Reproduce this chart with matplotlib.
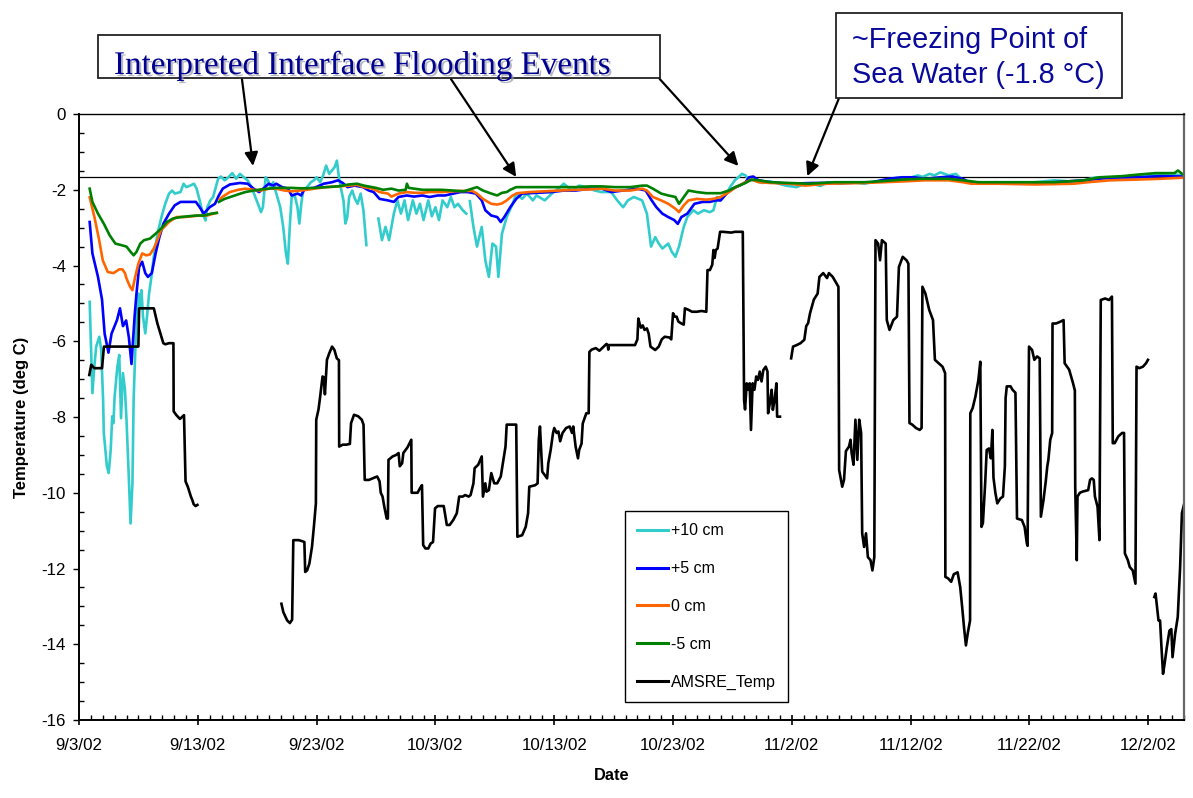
import numpy as np
import matplotlib
matplotlib.use("Agg")
import matplotlib.pyplot as plt
import matplotlib.dates as mdates
from matplotlib.patches import Rectangle
from matplotlib.lines import Line2D
from matplotlib.ticker import FixedLocator, FuncFormatter, MultipleLocator
import matplotlib.patheffects as pe
from datetime import datetime

plt.rcParams['font.family'] = ['Liberation Sans', 'DejaVu Sans']
plt.rcParams['axes.unicode_minus'] = False

# ---------------------------------------------------------------------------
# Data: days after 9/3/02 00:00 and temperatures (deg C); NaN marks a gap
# ---------------------------------------------------------------------------
START = datetime(2002, 9, 3)
FREEZE_LINE = -1.65

p10_days = [0.90, 1.13, 1.29, 1.45, 1.71, 1.87, 2.03, 2.09, 2.35, 2.50, 2.67, 2.80, 2.90, 3.00, 3.23,
            3.39, 3.54, 3.70, 3.87, 4.00, 4.18, 4.34, 4.50, 4.60, 4.74, 4.87, 5.00, 5.13, 5.26, 5.39,
            5.58, 5.74, 5.90, 6.06, 6.29, 6.61, 6.94, 7.26, 7.58, 7.84, 8.06, 8.55, 8.80, 9.03, 9.35,
            9.68, 9.90, 10.16, 10.42, 10.65, 10.80, 11.06, 11.29, 11.52, 11.71, 11.94, 12.26, 12.58,
            12.90, 13.23, 13.55, 13.87, 14.19, 14.52, 14.84, 15.06, 15.32, 15.48, 15.71, 15.90, 16.13,
            16.35, 16.61, 16.94, 17.19, 17.42, 17.58, 17.74, 17.90, 18.16, 18.39, 18.55, 18.71, 18.87,
            19.19, 19.52, 19.77, 20.00, 20.30, 20.55, 20.80, 21.06, 21.29, 21.52, 21.71, 21.84, 22.03,
            22.26, 22.42, 22.58, 22.74, 23.00, 23.23, 23.45, 23.71, 23.94, 24.19, 24.50, 25.20, 25.50,
            25.80, 26.10, 26.50, 26.80, 27.10, 27.40, 27.70, 28.10, 28.40, 28.70, 29.00, 29.40, 29.70,
            30.00, 30.30, 30.60, 31.00, 31.30, 31.60, 31.90, 32.30, 32.60, 32.75, 32.90, 33.20, 33.50,
            33.90, 34.20, 34.50, 34.80, 35.10, 35.30, 35.60, 36.00, 36.50, 36.80, 37.30, 37.70, 38.20,
            38.50, 39.20, 39.80, 40.50, 40.80, 41.50, 42.10, 42.70, 43.40, 44.00, 44.80, 45.30, 45.80,
            46.20, 46.70, 47.40, 47.80, 48.15, 48.50, 48.80, 49.10, 49.60, 49.90, 50.20, 50.50, 50.90,
            51.20, 51.70, 52.10, 52.60, 53.10, 53.40, 53.70, 54.00, 54.50, 54.80, 55.20, 55.50, 55.80,
            56.10, 56.40, 56.90, 57.50, 58.20, 59.50, 60.40, 61.00, 61.70, 62.40, 63.00, 64.00, 65.00,
            66.10, 67.00, 68.00, 68.60, 69.30, 70.00, 70.60, 71.00, 71.60, 72.00, 72.50, 73.20, 73.80,
            74.40, 75.10, 76.00, 77.30, 78.50, 80.50, 82.10, 83.50, 84.60, 85.60, 86.50, 87.50, 88.40,
            89.20, 90.00, 91.00, 91.60, 92.30, 93.00]
p10_temp = [-4.96, -7.37, -6.67, -6.14, -5.88, -6.23, -7.54, -8.42, -9.30, -9.48, -8.87, -7.98, -8.16,
            -7.46, -6.67, -6.36, -8.03, -6.84, -7.28, -8.07, -9.48, -10.81, -9.75, -7.54, -6.23, -5.18,
            -4.74, -5.10, -4.65, -5.35, -5.79, -5.30, -4.74, -4.39, -3.77, -3.16, -2.72, -2.37, -2.10,
            -2.02, -2.10, -2.06, -1.84, -1.93, -1.89, -1.84, -1.97, -2.28, -2.63, -2.81, -2.46, -2.28,
            -2.19, -1.93, -1.71, -1.65, -1.75, -1.67, -1.56, -1.71, -1.58, -1.67, -1.75, -1.93, -2.19,
            -2.37, -2.59, -2.46, -1.67, -1.75, -1.93, -1.80, -2.10, -2.46, -2.98, -3.68, -3.95, -2.98,
            -2.19, -2.15, -2.46, -2.89, -2.37, -2.02, -1.93, -1.80, -1.75, -1.67, -1.80, -1.62, -1.36,
            -1.58, -1.49, -1.40, -1.23, -1.58, -1.93, -2.28, -2.89, -2.72, -2.19, -2.02, -2.24, -2.37,
            -2.10, -2.54, -3.46, np.nan, -2.76, -3.33, -2.98, -3.33, -2.63, -2.28, -2.63, -2.28, -2.80,
            -2.28, -2.63, -2.37, -2.80, -2.28, -2.70, -2.46, -2.80, -2.28, -2.46, -2.19, -2.46, -2.37,
            -2.54, -2.63, np.nan, -2.30, -2.98, -3.50, -2.98, -3.86, -4.30, -3.42, -3.50, -4.30, -3.16,
            -2.72, -2.37, -2.10, -2.24, -2.10, -2.28, -2.15, -2.28, -2.10, -1.93, -1.84, -2.02, -1.89,
            -1.93, -2.02, -2.06, -2.06, -2.28, -2.46, -2.28, -2.19, -2.28, -2.63, -3.50, -3.25, -3.42,
            -3.55, -3.42, -3.64, -3.77, -3.50, -2.98, -2.72, -2.54, -2.63, -2.54, -2.59, -2.54, -2.19,
            -2.28, -2.10, -1.93, -1.75, -1.67, -1.58, -1.62, -1.75, -1.75, -1.82, -1.78, -1.89, -1.93,
            -1.85, -1.84, -1.90, -1.80, -1.84, -1.80, -1.84, -1.78, -1.75, -1.70, -1.67, -1.68, -1.62,
            -1.66, -1.58, -1.62, -1.54, -1.62, -1.58, -1.75, -1.80, -1.82, -1.80, -1.84, -1.80, -1.75,
            -1.78, -1.75, -1.67, -1.70, -1.67, -1.66, -1.64, -1.62, -1.60, -1.58, -1.60, -1.62]

p5_days = [0.90, 1.13, 1.60, 1.94, 2.16, 2.48, 2.74, 3.00, 3.20, 3.45, 3.70, 3.97, 4.20, 4.42, 4.68,
           4.84, 5.06, 5.32, 5.58, 5.80, 6.13, 6.45, 6.77, 7.10, 7.58, 8.06, 8.55, 9.20, 9.84, 10.16,
           10.50, 11.00, 11.45, 11.77, 12.10, 12.70, 13.55, 14.20, 14.70, 15.16, 15.65, 15.97, 16.35,
           16.60, 17.10, 17.60, 17.90, 18.40, 18.70, 19.00, 19.80, 20.60, 21.30, 21.80, 22.20, 22.60,
           23.20, 23.90, 24.40, 24.80, 25.30, 26.00, 26.50, 26.90, 27.60, 28.20, 28.90, 29.50, 30.20,
           30.80, 31.50, 32.10, 32.70, 33.40, 33.90, 34.20, 34.70, 35.20, 35.50, 35.80, 36.30, 36.80,
           37.30, 38.50, 39.80, 40.80, 41.80, 43.10, 44.00, 44.80, 45.80, 47.00, 47.70, 48.20, 48.60,
           49.10, 49.60, 50.10, 50.40, 50.70, 51.20, 51.80, 52.50, 53.10, 53.60, 54.00, 54.50, 55.00,
           55.60, 56.10, 56.40, 56.75, 57.20, 58.20, 59.80, 61.70, 64.60, 66.80, 68.10, 69.30, 70.30,
           71.20, 72.50, 73.50, 74.40, 74.90, 75.70, 78.90, 82.10, 84.60, 86.80, 89.10, 91.00, 93.00]
p5_temp = [-2.85, -3.68, -4.30, -4.90, -5.80, -6.30, -5.80, -5.60, -5.44, -5.13, -5.60, -5.45, -5.90,
           -6.60, -5.35, -4.74, -4.04, -3.90, -4.20, -4.30, -4.20, -3.68, -3.25, -2.90, -2.63, -2.41,
           -2.32, -2.32, -2.32, -2.46, -2.63, -2.46, -2.37, -2.15, -1.97, -1.86, -1.82, -1.84, -1.97,
           -2.06, -1.93, -1.84, -1.89, -1.84, -1.93, -1.97, -2.15, -2.10, -2.15, -1.97, -1.95, -1.84,
           -1.80, -1.75, -1.82, -1.93, -1.89, -1.93, -2.02, -2.06, -2.24, -2.28, -2.32, -2.19, -2.15,
           -2.18, -2.15, -2.19, -2.15, -2.15, -2.10, -2.06, -2.06, -2.10, -2.28, -2.54, -2.68, -2.72,
           -2.85, -2.72, -2.46, -2.24, -2.10, -2.08, -2.06, -2.02, -2.02, -1.97, -1.97, -2.06, -2.02,
           -1.97, -2.02, -2.28, -2.46, -2.63, -2.72, -2.80, -2.90, -2.72, -2.63, -2.37, -2.32, -2.32,
           -2.28, -2.28, -2.10, -1.97, -1.89, -1.80, -1.67, -1.65, -1.75, -1.80, -1.84, -1.82, -1.82,
           -1.80, -1.71, -1.67, -1.67, -1.71, -1.67, -1.65, -1.71, -1.80, -1.82, -1.82, -1.80, -1.75,
           -1.68, -1.67, -1.64, -1.65]

p0_days = [0.90, 1.30, 1.70, 2.00, 2.42, 2.90, 3.40, 3.65, 3.87, 4.00, 4.30, 4.50, 4.70, 5.00, 5.32,
           5.65, 5.97, 6.30, 6.60, 6.90, 7.58, 8.20, 8.87, 9.50, 10.16, 10.80, 11.30, 11.60, 11.70,
           11.85, 12.10, 12.70, 13.40, 14.00, 14.70, 15.30, 16.00, 16.60, 17.30, 17.90, 18.60, 19.20,
           19.80, 20.80, 21.80, 22.70, 23.40, 24.00, 24.70, 25.30, 26.00, 26.30, 26.90, 27.60, 28.20,
           28.90, 29.50, 30.50, 31.50, 32.40, 33.10, 33.50, 34.00, 34.70, 35.20, 35.60, 36.00, 36.50,
           36.90, 37.90, 39.20, 40.50, 41.80, 43.10, 44.00, 45.10, 46.40, 47.40, 47.80, 48.30, 49.00,
           49.60, 50.20, 50.50, 50.90, 51.30, 52.00, 52.80, 53.40, 54.00, 54.70, 55.30, 56.10, 56.60,
           57.20, 58.20, 59.80, 61.10, 63.00, 66.10, 67.70, 69.30, 71.20, 73.20, 74.40, 75.10, 77.30,
           80.50, 83.70, 84.90, 86.80, 89.10, 91.00, 93.00]
p0_temp = [-2.20, -2.72, -3.33, -3.86, -4.17, -4.20, -4.10, -4.10, -4.20, -4.34, -4.56, -4.65, -4.34,
           -3.95, -3.68, -3.73, -3.71, -3.55, -3.33, -3.07, -2.85, -2.72, -2.72, -2.70, -2.68, -2.68,
           -2.63, -2.61, np.nan, -2.25, -2.18, -2.06, -2.00, -1.97, -2.00, -2.02, -1.97, -1.97, -2.02,
           -2.04, -2.02, -2.00, -1.97, -1.93, -1.91, -1.89, -1.87, -1.93, -1.97, -2.06, -2.10, -2.18,
           -2.10, -2.06, -2.08, -2.08, -2.06, -2.06, -2.04, -2.03, -2.03, -2.10, -2.24, -2.37, -2.39,
           -2.36, -2.28, -2.15, -2.09, -2.06, -2.04, -2.02, -2.00, -1.99, -1.97, -2.02, -2.02, -1.97,
           -2.02, -2.19, -2.28, -2.37, -2.50, -2.59, -2.41, -2.28, -2.24, -2.26, -2.24, -2.19, -2.06,
           -1.93, -1.80, -1.73, -1.80, -1.82, -1.84, -1.89, -1.84, -1.82, -1.80, -1.78, -1.75, -1.75,
           -1.80, -1.84, -1.84, -1.86, -1.84, -1.80, -1.75, -1.73, -1.71, -1.68]

m5_days = [0.90, 1.13, 1.60, 2.10, 2.58, 3.06, 3.55, 4.00, 4.35, 4.60, 4.84, 5.16, 5.48, 5.97, 6.45,
           6.90, 7.40, 7.90, 8.55, 9.20, 9.84, 10.50, 11.13, 11.60, 11.70, 11.77, 12.26, 12.74, 13.40,
           14.00, 14.70, 15.30, 15.97, 16.60, 17.30, 17.90, 18.60, 19.20, 19.80, 20.80, 21.80, 22.70,
           23.40, 24.00, 25.00, 25.60, 26.30, 26.90, 27.50, 27.60, 27.75, 28.20, 28.90, 29.50, 30.50,
           31.50, 32.40, 33.10, 33.50, 34.00, 34.70, 35.20, 35.60, 36.00, 36.30, 36.80, 38.50, 40.20,
           41.80, 43.10, 44.00, 45.10, 46.40, 47.40, 47.80, 48.30, 49.00, 49.60, 50.20, 50.50, 51.00,
           51.30, 52.00, 52.80, 54.00, 54.70, 55.30, 56.10, 56.60, 57.20, 58.20, 59.80, 61.40, 63.60,
           66.10, 67.70, 69.30, 70.90, 73.20, 74.40, 75.70, 78.90, 82.10, 84.60, 85.90, 87.80, 89.10,
           90.60, 92.20, 92.50, 93.00]
m5_temp = [-1.97, -2.32, -2.63, -2.90, -3.20, -3.42, -3.46, -3.50, -3.64, -3.73, -3.64, -3.42, -3.33,
           -3.29, -3.16, -3.03, -2.85, -2.76, -2.72, -2.70, -2.68, -2.68, -2.63, -2.61, np.nan, -2.32,
           -2.24, -2.19, -2.12, -2.06, -2.02, -1.99, -1.97, -1.95, -1.95, -1.95, -1.96, -1.96, -1.95,
           -1.93, -1.91, -1.86, -1.84, -1.89, -1.95, -2.00, -1.97, -2.02, -2.00, -1.84, -1.95, -1.97,
           -2.00, -2.00, -2.00, -2.02, -2.04, -1.97, -1.93, -2.02, -2.10, -2.15, -2.08, -2.06, -2.00,
           -1.93, -1.93, -1.93, -1.93, -1.91, -1.91, -1.93, -1.93, -1.89, -1.89, -1.97, -2.10, -2.15,
           -2.19, -2.37, -2.15, -2.02, -2.06, -2.09, -2.09, -2.02, -1.92, -1.82, -1.73, -1.75, -1.80,
           -1.82, -1.84, -1.80, -1.80, -1.77, -1.73, -1.71, -1.71, -1.75, -1.80, -1.80, -1.80, -1.75,
           -1.67, -1.64, -1.60, -1.56, -1.56, -1.49, -1.62]

amsre_days = [0.87, 1.03, 1.29, 1.94, 2.10, 5.00, 5.06, 6.30, 6.60, 6.94, 7.10, 7.26, 7.58, 7.95,
              7.97, 8.20, 8.50, 8.84, 8.97, 9.16, 9.42, 9.55, 9.65, 9.81, 9.97, 13.50,
              17.04, 17.20, 17.52, 17.75, 17.94, 18.04, 18.49, 18.81, 18.97, 19.04, 19.20, 19.39,
              19.61, 19.77, 19.94, 19.97, 20.16, 20.30, 20.50, 20.60, 20.70, 20.87, 21.06, 21.30,
              21.50, 21.70, 21.88, 21.90, 22.20, 22.50, 22.80, 22.90, 23.15, 23.50, 23.80, 23.95,
              24.05, 24.40, 25.10, 25.30, 25.40, 25.55, 25.70, 25.90, 26.00, 26.05, 26.40, 26.70,
              26.90, 27.00, 27.20, 27.30, 27.65, 27.97, 28.00, 28.50, 28.70, 28.87, 28.97, 29.16,
              29.40, 29.60, 29.80, 29.97, 30.20, 30.70, 30.96, 31.20, 31.50, 31.80, 32.00, 32.30,
              32.50, 32.80, 32.96, 33.20, 33.30, 33.60, 33.90, 34.00, 34.20, 34.30, 34.50, 34.70,
              34.95, 35.20, 35.50, 35.90, 36.00, 36.80, 36.90, 37.30, 37.60, 37.80, 37.90, 38.40,
              38.60, 38.70, 38.80, 38.99, 39.40, 39.50, 39.70, 39.90, 40.00, 40.20, 40.35, 40.50,
              40.70, 41.00, 41.30, 41.50, 41.60, 41.80, 42.00, 42.10, 42.30, 42.40, 42.70, 42.90,
              42.96, 43.15, 43.50, 43.80, 44.40, 44.50, 44.55, 44.60, 45.80, 46.80, 47.00, 47.08,
              47.20, 47.30, 47.45, 47.60, 47.80, 47.95, 48.10, 48.50, 48.80, 49.05, 49.30, 49.70,
              49.85, 50.00, 50.15, 50.30, 50.45, 50.70, 50.90, 51.00, 51.30, 51.60, 52.00, 52.40,
              52.80, 52.90, 53.10, 53.30, 53.40, 53.50, 53.60, 53.75, 53.96, 54.20, 54.90, 55.20,
              55.87, 55.98, 56.06, 56.20, 56.33, 56.45, 56.56, 56.70, 56.85, 57.00, 57.15, 57.30,
              57.45, 57.60, 57.80, 57.95, 58.00, 58.15, 58.30, 58.40, 58.55, 58.70, 58.76, 59.00,
              59.50,
              59.94, 60.10, 60.41, 60.73, 61.05, 61.21, 61.37, 61.53, 61.85, 62.17, 62.32, 62.64,
              62.96, 63.12, 63.44, 63.76, 63.92, 63.98, 64.24, 64.39, 64.55, 64.81, 64.94, 65.03,
              65.19, 65.35, 65.51, 65.67, 65.83, 65.92, 66.08, 66.24, 66.40, 66.62, 66.78, 66.94,
              67.04, 67.26, 67.42, 67.58, 67.90, 67.99, 68.22, 68.54, 68.85, 69.01, 69.33, 69.65,
              69.81, 69.90, 70.13, 70.45, 70.76, 70.92, 70.99, 71.24, 71.56, 71.88, 72.04, 72.36,
              72.68, 72.90, 72.92, 73.15, 73.41, 73.63, 73.95, 74.17, 74.33, 74.49, 74.65, 74.81,
              75.00, 75.02, 75.22, 75.45, 75.70, 75.86, 75.96, 76.08, 76.27, 76.40, 76.59, 76.75,
              76.88, 76.97, 77.13, 77.29, 77.55, 77.77, 77.93, 77.99, 78.09, 78.41, 78.57, 78.82,
              78.95, 79.36, 79.59, 79.78, 79.84, 79.96, 80.22, 80.41, 80.64, 80.86, 80.96, 81.18,
              81.37, 81.50, 81.59, 81.75, 81.91, 81.94, 82.23, 82.55, 82.87, 82.96, 83.34, 83.66,
              83.82, 83.85, 83.98, 84.04, 84.24, 84.46, 84.94, 85.10, 85.25, 85.41, 85.51, 85.73,
              85.89, 86.00, 86.37, 86.69, 86.94, 87.01, 87.17, 87.48, 87.80, 87.96, 88.03, 88.28,
              88.44, 88.69, 88.92, 89.01, 89.24, 89.55, 89.81, 89.97, 90.30,
              90.51, 90.61, 90.73, 90.86, 90.99, 91.11, 91.24, 91.37, 91.56, 91.78, 91.94, 92.04,
              92.26, 92.48, 92.68, 92.83, 93.06]
amsre_temp = [-6.89, -6.62, -6.71, -6.71, -6.14, -6.14, -5.13, -5.13, -5.53, -5.88, -6.05, -6.08,
              -6.05, -6.05, -7.85, -7.95, -8.05, -7.95, -9.70, -9.84, -10.10, -10.20, -10.30, -10.35,
              -10.32, np.nan,
              -12.93, -13.15, -13.37, -13.44, -13.35, -11.25, -11.25, -11.28, -11.30, -12.09, -12.05,
              -11.87, -11.43, -10.90, -10.28, -8.07, -7.80, -7.46, -6.93, -6.95, -7.40, -6.49, -6.32,
              -6.14, -6.23, -6.45, -6.50, -8.78, -8.73, -8.73, -8.71, -8.16, -7.94, -7.98, -8.07,
              -8.20, -9.66, -9.66, -9.57, -9.70, -10.00, -10.10, -10.37, -10.68, -10.68, -9.13, -9.04,
              -9.00, -8.95, -9.30, -9.22, -8.95, -8.80, -8.60, -10.00, -10.00, -9.88, -9.80, -11.38,
              -11.47, -11.47, -11.34, -11.30, -10.41, -10.35, -10.35, -10.85, -10.85, -10.72, -10.54,
              -10.10, -10.10, -10.06, -10.10, -10.06, -9.75, -9.35, -9.26, -9.04, -10.10, -9.75,
              -9.97, -9.93, -9.48, -9.75, -9.75, -9.57, -8.78, -8.20, -8.20, -11.16, -11.12, -10.90,
              -10.54, -9.84, -9.80, -9.75, -8.60, -8.25, -9.44, -9.62, -9.22, -8.87, -8.42, -8.29,
              -8.42, -8.38, -8.64, -8.42, -8.29, -8.25, -8.42, -8.25, -8.78, -9.09, -8.87, -8.70,
              -8.17, -7.90, -7.90, -6.28, -6.22, -6.18, -6.25, -6.07, -6.10, -6.22, -6.10, -6.10,
              -6.10, -5.95, -5.40, -5.55, -5.64, -5.58, -5.70, -5.66, -5.80, -6.14, -6.23, -6.14,
              -5.95, -5.88, -5.90, -5.95, -5.26, -5.35, -5.35, -5.48, -5.53, -5.56, -5.13, -5.17,
              -5.22, -5.22, -5.20, -5.22, -4.12, -4.12, -3.98, -3.59, -3.80, -3.59, -3.55, -3.11,
              -3.11, -3.13, -3.11, -3.11, -7.55, -7.80, -7.11, -7.28, -7.11, -8.34, -7.11, -7.28,
              -6.93, -7.02, -6.80, -7.06, -6.76, -6.67, -6.80, -7.90, -7.63, -7.28, -7.81, -7.55,
              -7.11, -7.99, -7.99, np.nan,
              -6.45, -6.14, -6.10, -6.05, -5.96, -5.60, -5.52, -5.26, -4.90, -4.74, -4.30, -4.20,
              -4.33, -4.20, -4.30, -4.47, -4.56, -9.40, -9.84, -9.66, -8.90, -8.78, -8.60, -8.95,
              -9.26, -8.07, -9.13, -8.07, -8.42, -11.07, -11.43, -11.07, -11.70, -11.78, -12.05,
              -11.70, -3.33, -3.42, -3.86, -3.33, -3.42, -5.44, -5.70, -5.44, -5.35, -4.04, -3.77,
              -3.86, -3.95, -8.16, -8.20, -8.29, -8.34, -8.29, -4.56, -4.74, -5.17, -5.44, -6.49,
              -6.58, -6.67, -6.84, -12.22, -12.26, -12.35, -12.15, -12.10, -12.49, -13.00, -13.55,
              -14.03, -13.70, -13.37, -7.90, -7.76, -7.46, -7.02, -6.54, -10.90, -10.80, -9.75,
              -8.87, -8.83, -9.09, -8.34, -9.60, -10.00, -10.28, -10.15, -10.10, -9.30, -7.50, -7.19,
              -7.19, -7.28, -7.36, -10.68, -10.72, -10.90, -11.34, -11.40, -6.14, -6.23, -6.49,
              -6.40, -6.45, -10.63, -10.19, -9.70, -9.30, -9.13, -8.60, -8.42, -5.53, -5.53, -5.49,
              -5.44, -6.58, -6.75, -7.10, -7.30, -9.84, -11.78, -10.10, -10.00, -9.97, -9.93, -9.66,
              -9.62, -9.66, -10.10, -10.37, -11.25, -4.91, -4.87, -4.91, -4.82, -8.69, -8.69, -8.51,
              -8.42, -8.42, -11.60, -11.78, -11.96, -12.05, -12.40, -6.67, -6.71, -6.67, -6.58,
              -6.49, np.nan,
              -12.75, -12.66, -13.00, -13.37, -13.37, -14.08, -14.78, -14.52, -14.08, -13.64,
              -13.60, -14.34, -13.72, -13.28, -11.96, -10.54, -10.24]

series_labels = ['+10 cm', '+5 cm', '0 cm', '-5 cm', 'AMSRE_Temp']
series_colors = ['#33CCCC', '#0000FF', '#FF6600', '#008000', '#000000']

# Arrow tips (days after start, deg C) and tails (figure fraction)
arrow_tips = [(14.65, -1.37), (36.8, -1.66), (55.5, -1.37), (61.3, -1.64)]
arrow_tails = [(0.2028, 0.901), (0.378, 0.901), (0.553, 0.901), (0.703, 0.876)]

# ---------------------------------------------------------------------------
base = mdates.date2num(START)


def to_dates(days):
    return base + np.asarray(days, dtype=float)


fig = plt.figure(figsize=(11.93, 7.98), dpi=100)
ax = fig.add_axes([0.0662, 0.0977, 0.9262, 0.7594])

all_series = [(p10_days, p10_temp), (p5_days, p5_temp), (p0_days, p0_temp),
              (m5_days, m5_temp), (amsre_days, amsre_temp)]
for (d, t), lab, col in zip(all_series, series_labels, series_colors):
    ax.plot(to_dates(d), np.asarray(t, dtype=float), color=col, lw=1.9,
            solid_joinstyle='round', label=lab)

ax.axhline(FREEZE_LINE, color='black', lw=0.9, zorder=1)

ax.set_xlim(base, base + 93.0)
ax.set_ylim(-16, 0)

ax.xaxis.set_major_locator(FixedLocator(base + np.arange(0, 93, 10)))
ax.xaxis.set_minor_locator(FixedLocator(base + np.arange(0, 94, 1)))


def date_label(x, pos):
    d = mdates.num2date(x)
    return f"{d.month}/{d.day}/{d:%y}"


ax.xaxis.set_major_formatter(FuncFormatter(date_label))
ax.yaxis.set_major_locator(MultipleLocator(2))
ax.yaxis.set_minor_locator(MultipleLocator(0.5))

ax.tick_params(axis='x', which='major', direction='inout', length=7.5, width=1.2,
               labelsize=12.2, pad=9.5)
ax.tick_params(axis='x', which='minor', direction='in', length=3.6, width=1.0)
ax.tick_params(axis='y', which='major', direction='out', length=4.3, width=1.0,
               labelsize=12.2, pad=5)
ax.tick_params(axis='y', which='minor', direction='in', length=3.6, width=1.0)

for side in ('left', 'bottom'):
    ax.spines[side].set_linewidth(1.4)
ax.spines['top'].set_linewidth(1.0)
ax.spines['right'].set_linewidth(1.6)
ax.spines['right'].set_color('#666666')

ax.set_ylabel('Temperature (deg C)', fontsize=12, fontweight='bold')
ax.yaxis.set_label_coords(-0.045, 0.5)
ax.set_xlabel('Date', fontsize=11.8, fontweight='bold')
ax.xaxis.set_label_coords(0.482, -0.079)

handles = [Line2D([], [], color=c, lw=2.2) for c in series_colors]
leg = ax.legend(handles, series_labels, loc='lower left', bbox_to_anchor=(0.494, 0.03),
                frameon=True, fancybox=False, edgecolor='black', framealpha=1,
                fontsize=11.5, labelspacing=1.43, handlelength=1.95, handletextpad=0.2,
                borderpad=0.75, borderaxespad=0)
leg.get_frame().set_linewidth(1.0)

# Annotation boxes
W, H = 1193.0, 798.0
box1 = Rectangle((98 / W, 1 - 78 / H), (660 - 98) / W, (78 - 35) / H, transform=fig.transFigure,
                 facecolor='white', edgecolor='#222222', lw=1.3, zorder=3)
box2 = Rectangle((836 / W, 1 - 98 / H), (1122 - 836) / W, (98 - 13) / H, transform=fig.transFigure,
                 facecolor='white', edgecolor='#222222', lw=1.3, zorder=3)
fig.patches.extend([box1, box2])

fig.text(114 / W, 1 - 74 / H, 'Interpreted Interface Flooding Events', family='Liberation Serif',
         fontsize=23.8, color='#000090', ha='left', va='baseline', zorder=4,
         path_effects=[pe.withSimplePatchShadow(offset=(1.5, -1.5), shadow_rgbFace='#9999aa',
                                                alpha=0.7)])
fig.text(852 / W, 1 - 48 / H, '~Freezing Point of', fontsize=20.8, color='#0a0a9a',
         ha='left', va='baseline', zorder=4)
fig.text(852 / W, 1 - 83 / H, 'Sea Water (-1.8 °C)', fontsize=20.8, color='#0a0a9a',
         ha='left', va='baseline', zorder=4)

for (td, tv), (fx, fy) in zip(arrow_tips, arrow_tails):
    ax.annotate('', xy=(base + td, tv), xycoords='data', xytext=(fx, fy),
                textcoords='figure fraction', annotation_clip=False,
                arrowprops=dict(arrowstyle='-|>', color='black', lw=1.6, mutation_scale=20,
                                shrinkA=0, shrinkB=0))

fig.savefig('out.png', dpi=100)
